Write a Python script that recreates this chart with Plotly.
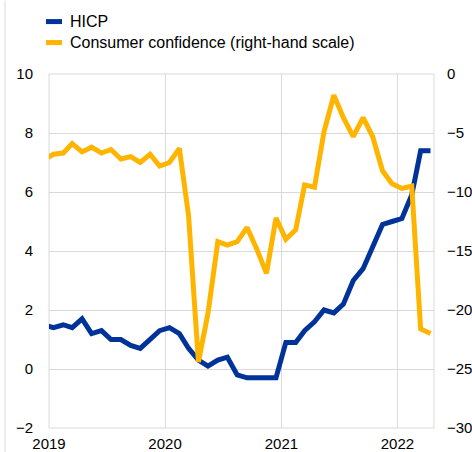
import pandas as pd
import plotly.graph_objects as go

# Monthly observations, Dec 2018 - Apr 2022
months = pd.period_range("2018-12", "2022-04", freq="M")
hicp = [1.5,
        1.4, 1.5, 1.4, 1.7, 1.2, 1.3, 1.0, 1.0, 0.8, 0.7, 1.0, 1.3,
        1.4, 1.2, 0.7, 0.3, 0.1, 0.3, 0.4, -0.2, -0.3, -0.3, -0.3, -0.3,
        0.9, 0.9, 1.3, 1.6, 2.0, 1.9, 2.2, 3.0, 3.4, 4.1, 4.9, 5.0,
        5.1, 5.9, 7.4, 7.4]
confidence = [-7.3,
              -6.8, -6.7, -5.9, -6.6, -6.2, -6.7, -6.4, -7.2, -7.0, -7.5, -6.8, -7.8,
              -7.5, -6.3, -12.0, -24.4, -20.3, -14.2, -14.5, -14.2, -13.0, -14.8, -16.9, -12.2,
              -14.0, -13.2, -9.4, -9.6, -4.9, -1.8, -3.7, -5.3, -3.7, -5.3, -8.2, -9.3,
              -9.7, -9.5, -21.6, -22.0]
year_ticks = ["2019", "2020", "2021", "2022"]
left_ticks = [-2, 0, 2, 4, 6, 8, 10]
right_ticks = [-30, -25, -20, -15, -10, -5, 0]
names = ["HICP", "Consumer confidence (right-hand scale)"]
colors = ["#003399", "#ffb400"]

dates = [m.to_timestamp() + pd.Timedelta(days=14) for m in months]

FONT = "Liberation Sans, Arial, sans-serif"
FS = 16
TFS = 15
W, H = 472, 452
ML, MT = 49, 73.5
PW, PH = 385, 354.5
MR, MB = W - ML - PW, H - MT - PH

fig = go.Figure()
fig.add_trace(go.Scatter(x=dates, y=confidence, name=names[1], mode="lines",
                         line=dict(color=colors[1], width=5), yaxis="y2"))
fig.add_trace(go.Scatter(x=dates, y=hicp, name=names[0], mode="lines",
                         line=dict(color=colors[0], width=5)))

grid = "#d9d9d9"
tick_font = dict(family=FONT, size=TFS, color="#000000")
fig.update_layout(
    width=W, height=H,
    margin=dict(l=ML, r=MR, t=MT, b=MB, pad=0, autoexpand=False),
    paper_bgcolor="white", plot_bgcolor="white",
    showlegend=False,
    font=dict(family=FONT, size=FS, color="#000000"),
    xaxis=dict(type="date", range=["2019-01-01", "2022-04-26"],
               tickvals=[f"{y}-01-01" for y in year_ticks], ticktext=year_ticks,
               tickfont=tick_font,
               showgrid=True, gridcolor=grid, gridwidth=1,
               zeroline=False, showline=False, automargin=False,
               ticks="outside", ticklen=2, tickcolor="rgba(0,0,0,0)"),
    yaxis=dict(range=[-2, 10], tickvals=left_ticks, tickfont=tick_font,
               showgrid=True, gridcolor=grid, gridwidth=1,
               zeroline=False, showline=False, automargin=False,
               ticks="outside", ticklen=12, tickcolor="rgba(0,0,0,0)"),
    yaxis2=dict(range=[-30, 0], tickvals=right_ticks, overlaying="y", side="right",
                tickfont=tick_font,
                showgrid=False, zeroline=False, showline=False, automargin=False,
                ticks="outside", ticklen=9, tickcolor="rgba(0,0,0,0)"),
)

# plot frame (light grey)
fig.add_shape(type="rect", xref="paper", yref="paper", x0=0, x1=1, y0=0, y1=1,
              line=dict(color=grid, width=1), fillcolor="rgba(0,0,0,0)", layer="below")
# thin left border line of the original image
fig.add_shape(type="line", xref="paper", yref="paper",
              x0=(5 - ML) / PW, x1=(5 - ML) / PW, y0=-MB / PH, y1=(H - MB) / PH,
              line=dict(color=grid, width=1))

# legend (window pixel positions converted to paper coordinates)
for i, (nm, c) in enumerate(zip(names, colors)):
    cy = 21 + 21 * i
    yp = (H - MB - cy) / PH
    fig.add_shape(type="rect", xref="paper", yref="paper",
                  x0=(46 - ML) / PW, x1=(62 - ML) / PW,
                  y0=yp - 2.5 / PH, y1=yp + 2.5 / PH,
                  line=dict(width=0), fillcolor=c)
    fig.add_annotation(xref="paper", yref="paper", x=(68 - ML) / PW, y=yp,
                       text=nm, showarrow=False, xanchor="left", yanchor="middle",
                       font=dict(family=FONT, size=FS, color="#000000"))

fig.write_html("out.html", config={"displayModeBar": False},
               post_script=("document.documentElement.style.overflow='hidden';"
                            "document.body.style.margin='0';"
                            "document.body.style.overflow='hidden';"))
